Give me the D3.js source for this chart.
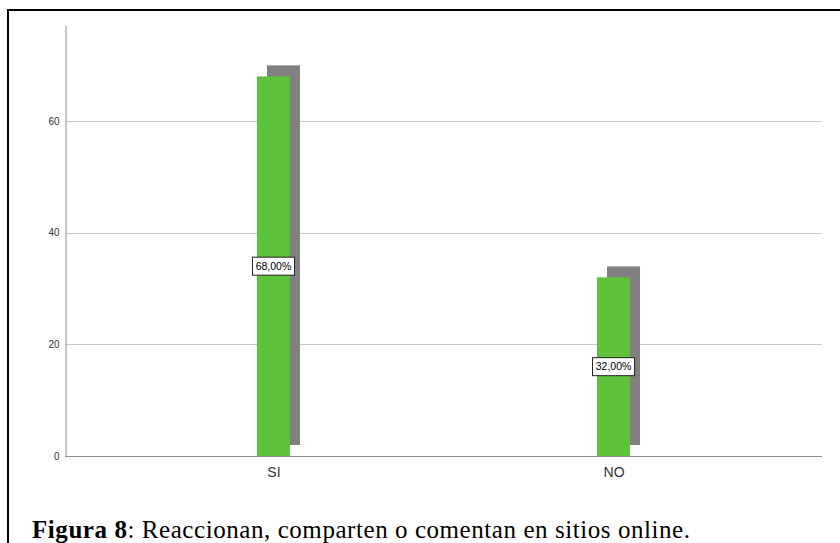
<!DOCTYPE html>
<html>
<head>
<meta charset="utf-8">
<script src="https://cdn.jsdelivr.net/npm/d3@7"></script>
<style>
  html, body { margin: 0; padding: 0; background: #fff; }
  svg { display: block; }
</style>
</head>
<body>
<svg id="chart" width="840" height="543"></svg>
<script>
// Responses and their percentages
const categories = ["SI", "NO"];
const percentages = [68, 32];
const yTicks = [0, 20, 40, 60];
const caption = { bold: "Figura 8", rest: ": Reaccionan, comparten o comentan en sitios online." };

const svg = d3.select("#chart");

// Frame around the figure
svg.append("path")
  .attr("d", "M8,543 V10 H840")
  .attr("fill", "none")
  .attr("stroke", "#000")
  .attr("stroke-width", 2);

const plot = { left: 65, right: 822, top: 25, bottom: 456 };

const y = d3.scaleLinear()
  .domain([0, 77.2])
  .range([plot.bottom, plot.top]);

const x = d3.scalePoint()
  .domain(categories)
  .range([plot.left, plot.right])
  .padding(0.613);

const barW = 33;
const shadowDx = 10, shadowDy = -11;

// Horizontal gridlines
svg.append("g")
  .selectAll("line")
  .data(yTicks.filter(t => t > 0))
  .join("line")
  .attr("x1", plot.left)
  .attr("x2", plot.right)
  .attr("y1", d => Math.round(y(d)) + 0.5)
  .attr("y2", d => Math.round(y(d)) + 0.5)
  .attr("stroke", "#c8c8c8")
  .attr("stroke-width", 1);

// Y axis
const yAxis = d3.axisLeft(y).tickValues(yTicks).tickSize(0).tickPadding(6);
const gy = svg.append("g")
  .attr("transform", `translate(${plot.left + 0.5},0)`)
  .call(yAxis);
gy.select(".domain").attr("stroke", "#8c8c8c");
gy.selectAll("text")
  .attr("font-family", "Arial, 'Liberation Sans', sans-serif")
  .attr("font-size", 10)
  .attr("fill", "#333");

// Bar shadows
svg.append("g")
  .selectAll("rect")
  .data(categories)
  .join("rect")
  .attr("x", (d) => x(d) - barW / 2 + shadowDx)
  .attr("y", (d, i) => y(percentages[i]) + shadowDy)
  .attr("width", barW)
  .attr("height", (d, i) => y(0) - y(percentages[i]))
  .attr("fill", "#808080");

// Bars
svg.append("g")
  .selectAll("rect")
  .data(categories)
  .join("rect")
  .attr("x", d => x(d) - barW / 2)
  .attr("y", (d, i) => y(percentages[i]))
  .attr("width", barW)
  .attr("height", (d, i) => y(0) - y(percentages[i]))
  .attr("fill", "#5ec23a");

// X axis
const xAxis = d3.axisBottom(x).tickSize(0).tickPadding(11);
const gx = svg.append("g")
  .attr("transform", `translate(0,${plot.bottom + 0.5})`)
  .call(xAxis);
gx.select(".domain").attr("stroke", "#8c8c8c").attr("d", `M${plot.left},0H${plot.right}`);
gx.selectAll("text")
  .attr("font-family", "Arial, 'Liberation Sans', sans-serif")
  .attr("font-size", 14)
  .attr("fill", "#333");

// Value labels in boxes at mid-height of each bar
const labels = svg.append("g")
  .selectAll("g")
  .data(categories)
  .join("g")
  .attr("transform", (d, i) => `translate(${x(d)},${y(percentages[i] / 2)})`);

labels.append("rect")
  .attr("x", -21)
  .attr("y", -9)
  .attr("width", 42)
  .attr("height", 18)
  .attr("fill", "#fff")
  .attr("stroke", "#222")
  .attr("stroke-width", 1);

labels.append("text")
  .attr("text-anchor", "middle")
  .attr("dy", "0.35em")
  .attr("font-family", "Arial, 'Liberation Sans', sans-serif")
  .attr("font-size", 10.5)
  .attr("fill", "#000")
  .text((d, i) => d3.format(".2f")(percentages[i]).replace(".", ",") + "%");

// Caption
const cap = svg.append("text")
  .attr("x", 32)
  .attr("y", 538)
  .attr("font-family", "'Liberation Serif', 'Times New Roman', serif")
  .attr("font-size", 25)
  .attr("textLength", 658)
  .attr("lengthAdjust", "spacing")
  .attr("fill", "#000");
cap.append("tspan").attr("font-weight", "bold").text(caption.bold);
cap.append("tspan").text(caption.rest);
</script>
</body>
</html>
